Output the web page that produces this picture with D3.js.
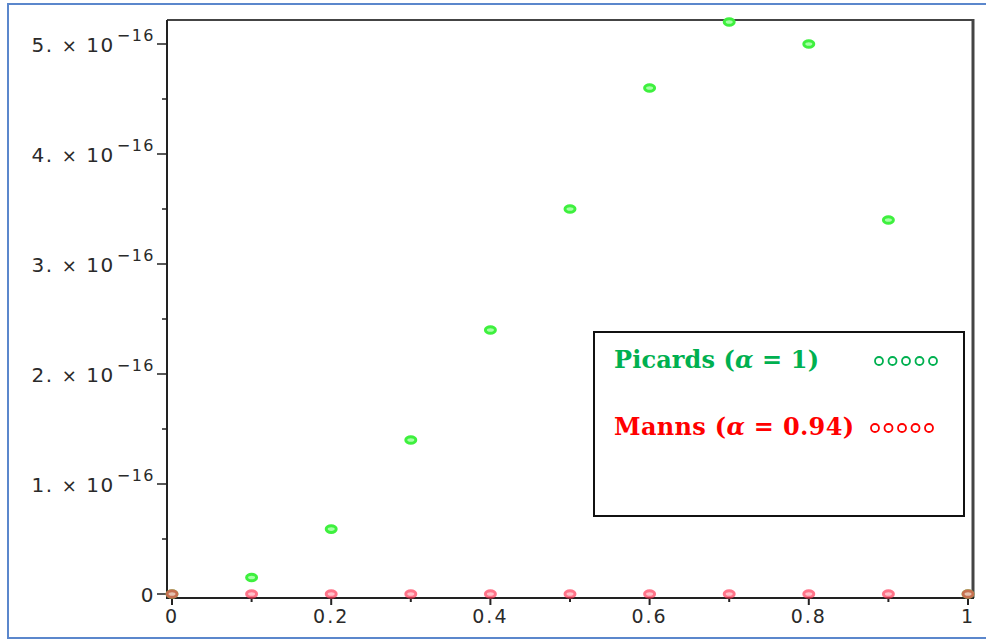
<!DOCTYPE html>
<html><head><meta charset="utf-8">
<script src="https://cdn.jsdelivr.net/npm/d3@7"></script>
<style>html,body{margin:0;padding:0;background:#fff;}svg{display:block;}</style>
</head><body>
<svg id="chart" width="986" height="639"></svg>
<script>
// ---- data ----
const xValues = [0, 0.1, 0.2, 0.3, 0.4, 0.5, 0.6, 0.7, 0.8, 0.9, 1.0];
const picards = [0, 0.15e-16, 0.59e-16, 1.40e-16, 2.40e-16, 3.50e-16, 4.60e-16, 5.20e-16, 5.00e-16, 3.40e-16, 0];
const manns   = [0, 0, 0, 0, 0, 0, 0, 0, 0, 0, 0];
const yTickValues = [0, 1e-16, 2e-16, 3e-16, 4e-16, 5e-16];
const yTickMantissa = ["0", "1.", "2.", "3.", "4.", "5."];
const yTickExponent = "\u221216";
const yMinorTicks = [0.5e-16, 1.5e-16, 2.5e-16, 3.5e-16, 4.5e-16];
const xTickValues = [0, 0.2, 0.4, 0.6, 0.8, 1];
const xTickLabels = ["0", "0.2", "0.4", "0.6", "0.8", "1"];
const xMinorTicks = [0.1, 0.3, 0.5, 0.7, 0.9];
const legendLabels = ["Picards", "Manns"];
const legendAlpha = ["1", "0.94"];

// ---- layout ----
const svg = d3.select("#chart");
const x = d3.scaleLinear().domain([0, 1]).range([172, 968]);
const y = d3.scaleLinear().domain([0, 5e-16]).range([594, 44]);
const frame = {left: 167, top: 20, right: 973, bottom: 598};
const tickFont = "'DejaVu Sans', Verdana, sans-serif";
const tickColor = "#2a2a2a";

// outer blue border
svg.append("rect").attr("x", 8).attr("y", 4).attr("width", 990).attr("height", 634)
  .attr("fill", "none").attr("stroke", "#5b87cc").attr("stroke-width", 2);

// frame
svg.append("line").attr("x1", frame.left).attr("x2", frame.right).attr("y1", frame.top).attr("y2", frame.top)
  .attr("stroke", "#444").attr("stroke-width", 2);
svg.append("line").attr("x1", frame.right).attr("x2", frame.right).attr("y1", frame.top - 1).attr("y2", frame.bottom)
  .attr("stroke", "#444").attr("stroke-width", 3);

// y axis (ticks outward)
const yAxisG = svg.append("g").attr("transform", `translate(${frame.left},0)`);
yAxisG.append("line").attr("x1", 0).attr("x2", 0).attr("y1", frame.top).attr("y2", frame.bottom + 1)
  .attr("stroke", "#222").attr("stroke-width", 2);
yAxisG.selectAll("line.maj").data(yTickValues).join("line").attr("class", "maj")
  .attr("x1", -10).attr("x2", 0).attr("y1", d => y(d)).attr("y2", d => y(d))
  .attr("stroke", "#222").attr("stroke-width", 1.5);
yAxisG.selectAll("line.min").data(yMinorTicks).join("line").attr("class", "min")
  .attr("x1", -5).attr("x2", 0).attr("y1", d => y(d)).attr("y2", d => y(d))
  .attr("stroke", "#222").attr("stroke-width", 1.5);

const yLab = yAxisG.selectAll("text").data(yTickValues).join("text")
  .attr("x", -12).attr("y", d => y(d) + 8)
  .attr("text-anchor", "end")
  .attr("font-family", tickFont).attr("font-size", 20).attr("fill", tickColor)
  .attr("letter-spacing", 1.5);
yLab.each(function(d, i) {
  const t = d3.select(this);
  if (i === 0) { t.text(yTickMantissa[i]); return; }
  t.append("tspan").text(yTickMantissa[i]);
  t.append("tspan").attr("dx", 8).attr("font-size", 18).text("\u00d7");
  t.append("tspan").attr("dx", 8).text("10");
  t.append("tspan").attr("dx", 2).attr("dy", -11).attr("font-size", 16).text(yTickExponent);
});

// x axis (ticks downward)
const xAxisG = svg.append("g").attr("transform", `translate(0,${frame.bottom})`);
xAxisG.append("line").attr("x1", frame.left).attr("x2", frame.right + 1).attr("y1", 0).attr("y2", 0)
  .attr("stroke", "#222").attr("stroke-width", 2);
xAxisG.selectAll("line.maj").data(xTickValues).join("line").attr("class", "maj")
  .attr("x1", d => x(d)).attr("x2", d => x(d)).attr("y1", 0).attr("y2", 7)
  .attr("stroke", "#222").attr("stroke-width", 2);
xAxisG.selectAll("line.min").data(xMinorTicks).join("line").attr("class", "min")
  .attr("x1", d => x(d)).attr("x2", d => x(d)).attr("y1", 0).attr("y2", 4)
  .attr("stroke", "#222").attr("stroke-width", 2);
xAxisG.selectAll("text").data(xTickValues).join("text")
  .attr("x", d => x(d)).attr("y", 25)
  .attr("text-anchor", "middle")
  .attr("font-family", tickFont).attr("font-size", 19).attr("fill", tickColor)
  .attr("letter-spacing", 2)
  .text((d, i) => xTickLabels[i]);

// markers
function drawSeries(vals, stroke, fill, opacity) {
  svg.append("g").selectAll("ellipse").data(vals).join("ellipse")
    .attr("cx", (d, i) => x(xValues[i])).attr("cy", d => y(d))
    .attr("rx", 5).attr("ry", 3.3)
    .attr("fill", fill).attr("stroke", stroke).attr("stroke-width", 3)
    .attr("opacity", opacity);
}
drawSeries(picards, "#3ef03e", "#a6ffa6", 1);
drawSeries(manns, "#ff3a58", "#ffa8b4", 0.7);

// legend
const lg = svg.append("g");
lg.append("rect").attr("x", 594).attr("y", 332).attr("width", 370).attr("height", 184)
  .attr("fill", "#fff").attr("stroke", "#111").attr("stroke-width", 2);
const legendColors = ["#00b050", "#ff0000"];
const legendY = [368, 435];
const legendWidths = [205, 240];
const circleStart = [879, 875];
legendLabels.forEach((lab, i) => {
  const t = lg.append("text").attr("x", 614).attr("y", legendY[i])
    .attr("font-family", "'DejaVu Serif', 'Liberation Serif', serif").attr("font-weight", "bold")
    .attr("font-size", 24).attr("fill", legendColors[i]);
  t.append("tspan").text(lab + " (");
  t.append("tspan").attr("font-style", "italic").text("\u03b1");
  t.append("tspan").text(" = " + legendAlpha[i] + ")");
  t.attr("textLength", legendWidths[i]).attr("lengthAdjust", "spacing");
  lg.selectAll(null).data(d3.range(5)).join("circle")
    .attr("cx", k => circleStart[i] + k * 13.5).attr("cy", legendY[i] - 7)
    .attr("r", 4).attr("fill", "none").attr("stroke", legendColors[i]).attr("stroke-width", 1.8);
});
</script>
</body></html>
